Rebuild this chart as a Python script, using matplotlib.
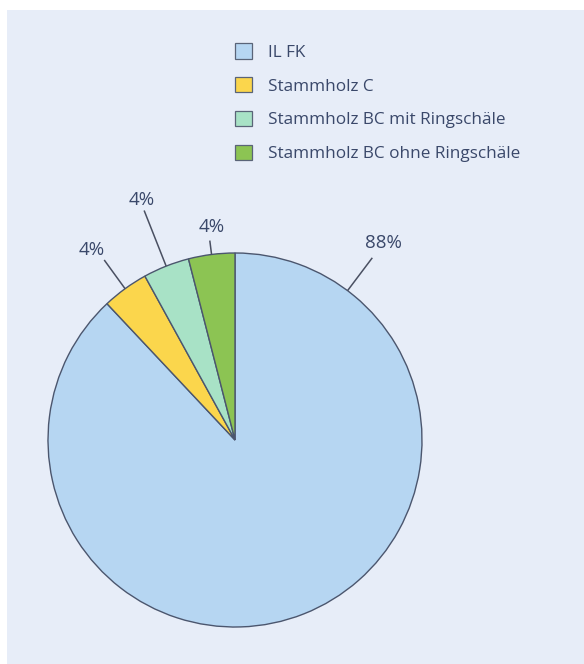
import numpy as np
import matplotlib
matplotlib.use('Agg')
import matplotlib.pyplot as plt
from matplotlib.patches import Patch

# share of assortments
labels = ['IL FK', 'Stammholz C', 'Stammholz BC mit Ringschäle', 'Stammholz BC ohne Ringschäle']
shares = [88, 4, 4, 4]
colors = ['#b6d6f2', '#fbd64c', '#a8e2c6', '#8cc453']

# label layout: leader angle override (deg), line end radius, text angle, text radius
label_angle = [53, None, None, None]
line_r = [1.22, 1.19, 1.32, 1.075]
text_ang = [53.1, 127.0, 111.2, 96.2]
text_r = [1.32, 1.27, 1.375, 1.145]

txt_col = '#3a486a'
edge_col = '#4b566e'
bg = '#e7edf8'

plt.rcParams['font.family'] = ['Open Sans', 'DejaVu Sans']

fig = plt.figure(figsize=(5.84, 6.64), dpi=100)
fig.patch.set_facecolor('white')
# scanned page background
fig.patches.append(plt.Rectangle((7 / 584, 0), 1, 1 - 10 / 664, transform=fig.transFigure,
                                 facecolor=bg, edgecolor='none', zorder=-5))

cx, cy, r = 235, 440, 187
ax = fig.add_axes([(cx - r) / 584, (664 - cy - r) / 664, 2 * r / 584, 2 * r / 664])
ax.set_zorder(2)

wedges, _ = ax.pie(shares, colors=colors, startangle=90, counterclock=False,
                   wedgeprops=dict(edgecolor=edge_col, linewidth=1.0))
ax.set_xlim(-1, 1)
ax.set_ylim(-1, 1)
ax.set_aspect('auto')
ax.axis('off')

for i, w in enumerate(wedges):
    ang = label_angle[i] if label_angle[i] is not None else (w.theta1 + w.theta2) / 2
    a = np.deg2rad(ang)
    x0, y0 = np.cos(a), np.sin(a)
    ax.plot([x0, line_r[i] * x0], [y0, line_r[i] * y0], color='#4a5062', lw=1.1,
            clip_on=False, solid_capstyle='butt')
    ta = np.deg2rad(text_ang[i])
    ax.text(text_r[i] * np.cos(ta), text_r[i] * np.sin(ta), f'{shares[i]}%',
            ha='center', va='center', fontsize=13.5, color=txt_col, clip_on=False)

handles = [Patch(facecolor=c, edgecolor='#5a6478', linewidth=0.9) for c in colors]
leg = fig.legend(handles, labels, loc='upper left', bbox_to_anchor=(220 / 584, 1 - 28 / 664),
                 frameon=False, fontsize=12.3, handlelength=1.0, handleheight=1.0,
                 labelspacing=0.95, handletextpad=0.93, borderpad=0.4)
leg.set_zorder(3)
for t in leg.get_texts():
    t.set_color(txt_col)

fig.savefig('out.png', dpi=100)
